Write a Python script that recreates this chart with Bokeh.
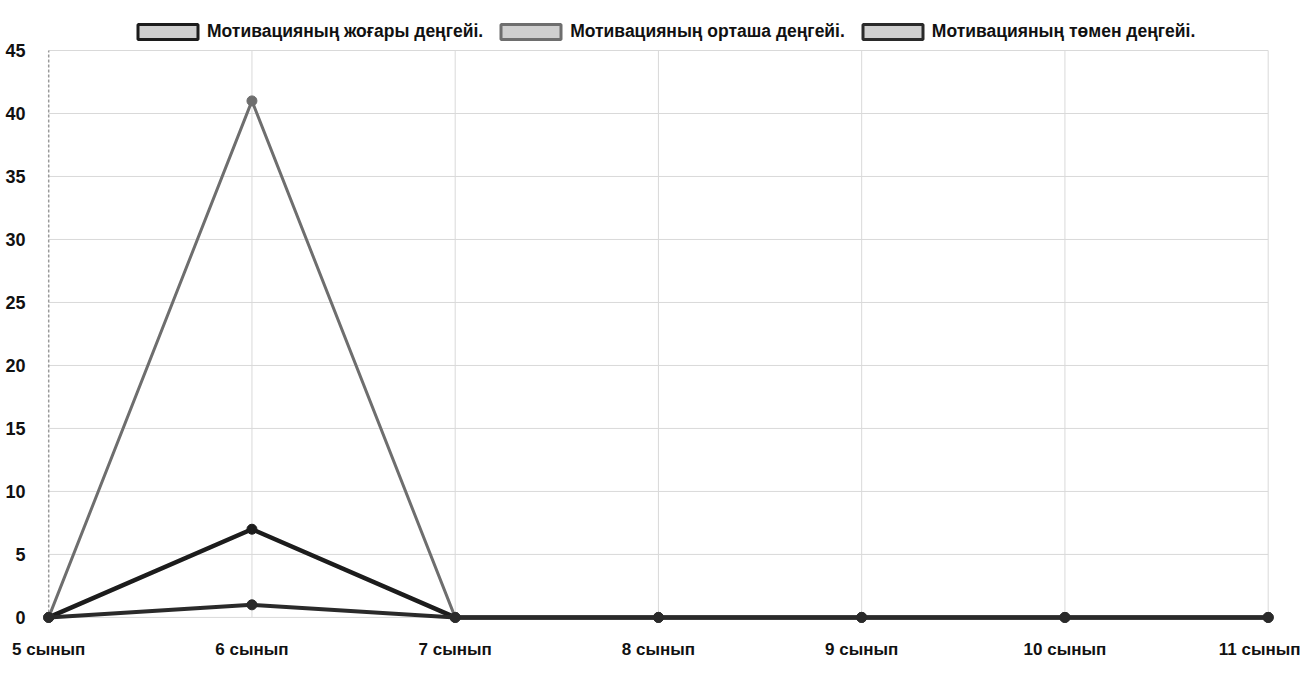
from bokeh.plotting import figure
from bokeh.models import Range1d, FixedTicker, Legend, LegendItem
from bokeh.embed import file_html
from bokeh.resources import INLINE

categories = ["5 сынып", "6 сынып", "7 сынып", "8 сынып", "9 сынып", "10 сынып", "11 сынып"]
high_vals = [0, 7, 0, 0, 0, 0, 0]
mid_vals = [0, 41, 0, 0, 0, 0, 0]
low_vals = [0, 1, 0, 0, 0, 0, 0]
series_names = ["Мотивацияның жоғары деңгейі.", "Мотивацияның орташа деңгейі.", "Мотивацияның төмен деңгейі."]
y_ticks = [0, 5, 10, 15, 20, 25, 30, 35, 40, 45]

FONT = "Liberation Sans"
xs = list(range(len(categories)))
n = len(xs)

p = figure(width=1300, height=661, output_backend="svg", toolbar_location=None,
           x_range=Range1d(-0.06, 6.1), y_range=Range1d(-0.8, 47.54),
           min_border_left=36, min_border_right=12, min_border_top=18, min_border_bottom=33)
p.outline_line_color = None
p.background_fill_color = "white"

p.xaxis.ticker = FixedTicker(ticks=xs)
p.xaxis.major_label_overrides = {i: c for i, c in enumerate(categories)}
p.yaxis.ticker = FixedTicker(ticks=y_ticks)
for ax in (p.xaxis, p.yaxis):
    ax.axis_line_color = None
    ax.major_tick_line_color = None
    ax.minor_tick_line_color = None
    ax.major_label_text_font = FONT
    ax.major_label_text_font_style = "bold"
    ax.major_label_text_font_size = "17px"
    ax.major_label_text_color = "#111111"
p.yaxis.major_label_text_font_size = "18px"
p.xaxis.major_label_standoff = 6
p.yaxis.major_label_standoff = 5

p.xgrid.visible = False
p.ygrid.visible = False
# grid lines limited to the data area (0..45, first..last category)
p.segment(x0=xs[1:], y0=[y_ticks[0]] * (n - 1), x1=xs[1:], y1=[y_ticks[-1]] * (n - 1),
          line_color="#d9d9d9", line_width=1)
p.segment(x0=[xs[0]] * len(y_ticks), y0=y_ticks, x1=[xs[-1]] * len(y_ticks), y1=y_ticks,
          line_color="#d9d9d9", line_width=1)
p.segment(x0=[xs[0]], y0=[y_ticks[0]], x1=[xs[0]], y1=[y_ticks[-1]],
          line_color="#9a9a9a", line_width=1.5, line_dash="3 2")

colors = ["#1c1c1c", "#6e6e6e", "#2a2a2a"]
widths = [4.5, 3, 4]
items = []
for name, vals, col, w in zip(series_names, [high_vals, mid_vals, low_vals], colors, widths):
    p.line(xs, vals, line_color=col, line_width=w)
    p.scatter(xs, vals, size=10, fill_color=col, line_color=col)
    r_box = p.quad(left=[0], right=[0], top=[0], bottom=[0], fill_color="#cfcfcf",
                   line_color=col, line_width=3, visible=False)
    items.append(LegendItem(label=name, renderers=[r_box]))

legend = Legend(items=items, orientation="horizontal", location=(94, 585),
                label_text_font=FONT, label_text_font_style="bold",
                label_text_font_size="17.5px", label_text_color="#111111",
                glyph_width=75, glyph_height=19, spacing=10, padding=2, margin=0,
                label_standoff=2, border_line_color=None, background_fill_alpha=0)
p.add_layout(legend, "center")

open("out.html", "w").write(file_html(p, INLINE))
